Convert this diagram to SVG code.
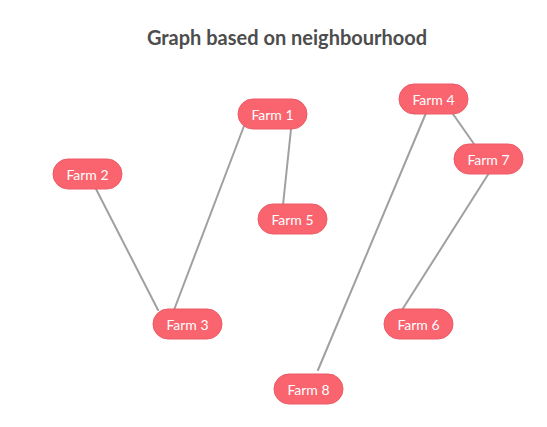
<svg xmlns="http://www.w3.org/2000/svg" width="547" height="427" viewBox="0 0 547 427">
<style>
.bg{fill:#ffffff}
.title{font-family:Lato,"Liberation Sans",sans-serif;font-weight:bold;font-size:20px;fill:#4d4d4d;text-anchor:middle}
.node rect{fill:#f9646f;stroke:#ec5a66;stroke-width:1}
.node text{font-family:Lato,"Liberation Sans",sans-serif;font-size:14px;fill:#ffffff;text-anchor:middle;dominant-baseline:central}
.edges line{stroke:#a0a0a0;stroke-width:2;stroke-linecap:round}
</style>
<rect class="bg" width="547" height="427"/>
<text class="title" x="287" y="45">Graph based on neighbourhood</text>
<g id="edges" class="edges">
<line x1="244" y1="126" x2="174" y2="310"/>
<line x1="291" y1="129" x2="283" y2="205"/>
<line x1="96" y1="189" x2="158" y2="310"/>
<line x1="426" y1="113" x2="318" y2="370"/>
<line x1="453" y1="114" x2="474" y2="144"/>
<line x1="489" y1="173" x2="402" y2="310"/>
</g>
<g id="farm1" class="node"><rect x="238" y="99" width="69" height="30" rx="15"/><text x="272.5" y="114">Farm 1</text></g>
<g id="farm2" class="node"><rect x="53" y="159" width="69" height="30" rx="15"/><text x="87.5" y="174">Farm 2</text></g>
<g id="farm3" class="node"><rect x="153" y="309" width="69" height="30" rx="15"/><text x="187.5" y="324">Farm 3</text></g>
<g id="farm4" class="node"><rect x="399" y="84" width="69" height="30" rx="15"/><text x="433.5" y="99">Farm 4</text></g>
<g id="farm5" class="node"><rect x="258" y="204" width="69" height="30" rx="15"/><text x="292.5" y="219">Farm 5</text></g>
<g id="farm6" class="node"><rect x="384" y="309" width="69" height="30" rx="15"/><text x="418.5" y="324">Farm 6</text></g>
<g id="farm7" class="node"><rect x="454" y="144" width="69" height="30" rx="15"/><text x="488.5" y="159">Farm 7</text></g>
<g id="farm8" class="node"><rect x="274" y="374" width="69" height="30" rx="15"/><text x="308.5" y="389">Farm 8</text></g>
</svg>
